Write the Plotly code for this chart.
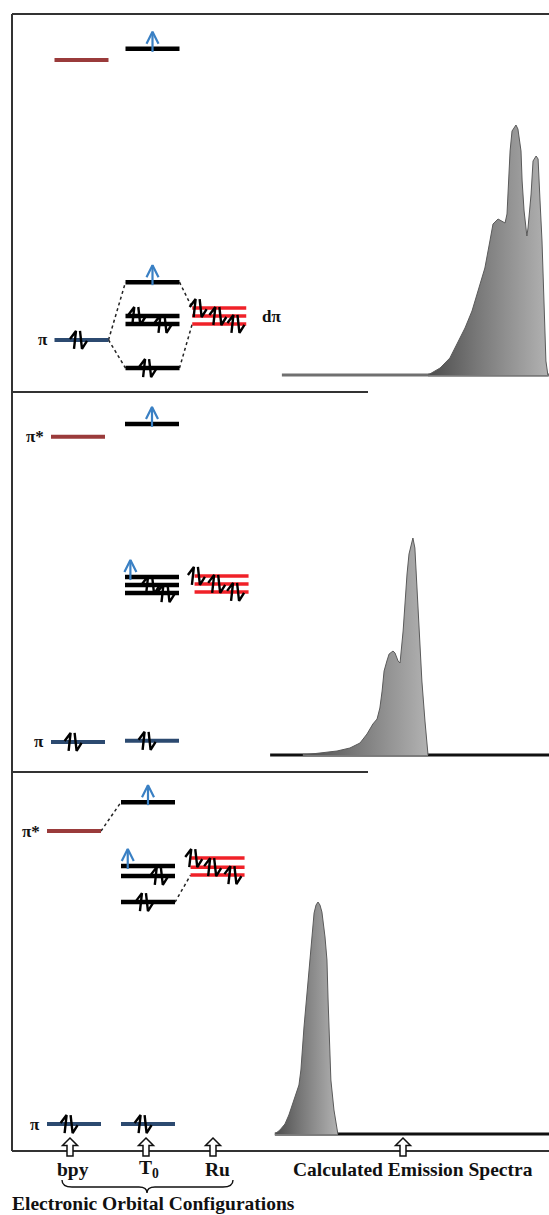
import plotly.graph_objects as go

# ---------------------------------------------------------------------------
# Orbital level data (energies in arbitrary units, 0 = floor of each panel)
# ---------------------------------------------------------------------------
columns = ["bpy", "T0", "Ru"]

# Panel 1
p1_level_col = ["bpy", "bpy", "T0", "T0", "T0", "T0", "T0", "Ru", "Ru", "Ru"]
p1_level_energy = [8.74, 1.37, 9.03, 2.89, 2.00, 1.79, 0.63, 2.21, 2.00, 1.79]
p1_level_kind = ["pi_star", "pi", "t0", "t0", "t0", "t0", "t0", "d", "d", "d"]
p1_electrons = ["", "pair", "up", "up", "pair", "pair", "pair", "pair", "pair", "pair"]
p1_electron_shift = [0, -0.13, 0, 0, -0.6, 0.37, -0.2, -0.8, -0.07, 0.6]
p1_links = [(1, 3), (1, 6), (3, 7), (6, 9)]
p1_left_labels = {1: "π"}
p1_right_labels = {8: "dπ"}

# Panel 2
p2_level_col = ["bpy", "bpy", "T0", "T0", "T0", "T0", "T0", "Ru", "Ru", "Ru"]
p2_level_energy = [8.82, 0.79, 9.16, 5.13, 4.92, 4.71, 0.82, 5.16, 4.95, 4.74]
p2_level_kind = ["pi_star", "pi", "t0", "t0", "t0", "t0", "pi", "d", "d", "d"]
p2_electrons = ["", "pair", "up", "up", "pair", "pair", "pair", "pair", "pair", "pair"]
p2_electron_shift = [0, -0.2, 0, -0.8, -0.07, 0.5, -0.2, -0.95, -0.2, 0.5]
p2_links = []
p2_left_labels = {0: "π*", 1: "π"}
p2_right_labels = {}

# Panel 3
p3_level_col = ["bpy", "bpy", "T0", "T0", "T0", "T0", "T0", "Ru", "Ru", "Ru"]
p3_level_energy = [8.42, 0.71, 9.18, 7.50, 7.24, 6.55, 0.71, 7.71, 7.47, 7.26]
p3_level_kind = ["pi_star", "pi", "t0", "t0", "t0", "t0", "pi", "d", "d", "d"]
p3_electrons = ["", "pair", "up", "up", "pair", "pair", "pair", "pair", "pair", "pair"]
p3_electron_shift = [0, -0.2, 0, -0.75, 0.4, -0.15, -0.2, -0.9, -0.2, 0.55]
p3_links = [(0, 2), (5, 9)]
p3_left_labels = {0: "π*", 1: "π"}
p3_right_labels = {}

# ---------------------------------------------------------------------------
# Calculated emission spectra (spectral coordinate 0-100, relative intensity)
# ---------------------------------------------------------------------------
spec1_x = [56.8, 61.1, 64.6, 67.1, 70.0, 72.5, 74.6, 77.1, 78.9, 80.0, 81.8, 83.2,
           84.3, 85.0, 85.4, 86.1, 86.8, 88.2, 88.9, 90.0, 90.4, 91.1, 92.1, 92.5,
           93.6, 94.3, 95.4, 96.1, 96.8, 97.5, 98.2, 98.9, 99.6]
spec1_y = [0.0, 0.028, 0.068, 0.124, 0.188, 0.256, 0.336, 0.428, 0.536, 0.604, 0.624, 0.616,
           0.608, 0.644, 0.764, 0.896, 0.976, 1.0, 0.984, 0.896, 0.776, 0.656, 0.556, 0.588,
           0.724, 0.856, 0.876, 0.864, 0.696, 0.536, 0.296, 0.056, 0.0]
spec1_base = (4.6, 100.0)

spec2_x = [12.1, 18.2, 24.3, 28.9, 32.5, 35.0, 37.1, 38.6, 39.6, 40.4, 41.1, 42.1, 42.9,
           44.3, 45.0, 46.1, 46.8, 47.9, 48.6, 49.3, 50.0, 51.4, 52.1, 52.9, 53.2, 53.9,
           54.6, 55.7, 56.8]
spec2_y = [0.0, 0.008, 0.016, 0.028, 0.048, 0.084, 0.124, 0.144, 0.188, 0.256, 0.336, 0.376,
           0.404, 0.416, 0.408, 0.376, 0.368, 0.496, 0.628, 0.724, 0.804, 0.868, 0.828, 0.668,
           0.564, 0.428, 0.296, 0.136, 0.0]
spec2_base = (0.4, 100.0)

spec3_x = [2.1, 3.9, 5.7, 7.1, 8.9, 10.7, 11.4, 12.5, 13.9, 14.6, 15.4, 16.1, 16.8, 17.5,
           18.2, 18.9, 20.0, 20.7, 21.1, 21.8, 22.1, 23.2, 24.3, 24.6]
spec3_y = [0.0, 0.016, 0.04, 0.076, 0.136, 0.196, 0.256, 0.428, 0.604, 0.696, 0.788, 0.884,
           0.916, 0.928, 0.916, 0.888, 0.788, 0.696, 0.536, 0.336, 0.216, 0.096, 0.016, 0.0]
spec3_base = (2.1, 100.0)

axis_labels = ["bpy", "T<sub>0</sub>", "Ru", "Calculated Emission Spectra"]
group_label = "Electronic Orbital Configurations"

# ---------------------------------------------------------------------------
# Layout geometry (pixels)
# ---------------------------------------------------------------------------
W, H = 549, 1215
PANEL_TOP = [14, 392, 772]
PANEL_BOTTOM = [392, 772, 1151]
FRAME_LEFT = 12
SEPARATOR_END = 368
E_PX = 38.0                       # pixels per energy unit
COL_ORIGIN = [81.5, 78.0, 74.0]   # pixel centre of the bpy column
COL_PX = [71.0, 74.0, 74.0]       # pixels per column step
COL_POS = {"bpy": 0.0, "T0": 1.0, "Ru": 1.94}
LEVEL_HALF_PX = 27.0
SPEC_X0_PX = 269.0
INT_PX = 250.0                    # pixels per unit intensity
BASE_OFFSET_PX = 17.0
ARROW_X = [70, 146, 213, 403]
LABEL_X = [73, 149, 217, 413]

SERIF = "Liberation Serif, Times New Roman, serif"
LEVEL_STYLE = {
    "pi_star": ("#9a3b3b", 4.0),
    "pi": ("#2c4a70", 4.0),
    "t0": ("#000000", 4.5),
    "d": ("#f02128", 3.5),
}
BASE_COLOR = ["#707070", "#111111", "#111111"]
BLUE = "#3a80c4"

panels = [
    (p1_level_col, p1_level_energy, p1_level_kind, p1_electrons, p1_electron_shift,
     p1_links, p1_left_labels, p1_right_labels, spec1_x, spec1_y, spec1_base),
    (p2_level_col, p2_level_energy, p2_level_kind, p2_electrons, p2_electron_shift,
     p2_links, p2_left_labels, p2_right_labels, spec2_x, spec2_y, spec2_base),
    (p3_level_col, p3_level_energy, p3_level_kind, p3_electrons, p3_electron_shift,
     p3_links, p3_left_labels, p3_right_labels, spec3_x, spec3_y, spec3_base),
]

# half-arrow spin pair and single spin-up arrow, in pixel offsets (y down)
PAIR_STROKES = [[(-8, -1), (-2, -9), (-4, 9)], [(2, -9), (4, 9), (9, 1)]]
UP_STROKES = [[(0, 3), (0, -17)], [(-6, -5), (0, -17), (6, -5)]]


def glyph(strokes, cx, cy, kx, ky):
    xs, ys = [], []
    for s in strokes:
        for dx, dy in s:
            xs.append(cx + dx * kx)
            ys.append(cy - dy * ky)
        xs.append(None)
        ys.append(None)
    return xs, ys


def ax_id(n):
    return "" if n == 1 else str(n)


fig = go.Figure()
annotations = []
layout_axes = {}

for i, (lcol, lE, lkind, lel, lshift, links, left_lab, right_lab,
        sx, sy, base) in enumerate(panels):
    top, bottom = PANEL_TOP[i], PANEL_BOTTOM[i]
    ydom = [1 - bottom / H, 1 - top / H]
    no, ns = 2 * i + 1, 2 * i + 2
    xo, yo = "x" + ax_id(no), "y" + ax_id(no)
    xs_, ys_ = "x" + ax_id(ns), "y" + ax_id(ns)

    kx = 1.0 / COL_PX[i]
    ky = 1.0 / E_PX
    half = LEVEL_HALF_PX * kx

    layout_axes["xaxis" + ax_id(no)] = dict(
        domain=[0, 1], range=[-COL_ORIGIN[i] * kx, (W - COL_ORIGIN[i]) * kx],
        visible=False, anchor=yo, fixedrange=True)
    layout_axes["yaxis" + ax_id(no)] = dict(
        domain=ydom, range=[0, (bottom - top) * ky],
        visible=False, anchor=xo, fixedrange=True)
    layout_axes["xaxis" + ax_id(ns)] = dict(
        domain=[SPEC_X0_PX / W, 1], range=[0, 100],
        visible=False, anchor=ys_, fixedrange=True)
    layout_axes["yaxis" + ax_id(ns)] = dict(
        domain=ydom,
        range=[-BASE_OFFSET_PX / INT_PX, (bottom - top - BASE_OFFSET_PX) / INT_PX],
        visible=False, anchor=xs_, fixedrange=True)

    xpos = [COL_POS[c] for c in lcol]

    # dotted correlation lines between levels
    for a, b in links:
        fig.add_trace(go.Scatter(
            x=[xpos[a] + half, xpos[b] - half], y=[lE[a], lE[b]],
            mode="lines", line=dict(color="#222222", width=1.5, dash="dot"),
            xaxis=xo, yaxis=yo, hoverinfo="skip", showlegend=False))

    # energy levels, one trace per colour
    for kind, (color, width) in LEVEL_STYLE.items():
        X, Y = [], []
        for j in range(len(lE)):
            if lkind[j] == kind:
                X += [xpos[j] - half, xpos[j] + half, None]
                Y += [lE[j], lE[j], None]
        if X:
            fig.add_trace(go.Scatter(
                x=X, y=Y, mode="lines", line=dict(color=color, width=width),
                xaxis=xo, yaxis=yo, hoverinfo="skip", showlegend=False))

    # electrons
    PX, PY, UX, UY = [], [], [], []
    for j in range(len(lE)):
        if not lel[j]:
            continue
        cx = xpos[j] + lshift[j] * half
        if lel[j] == "pair":
            gx, gy = glyph(PAIR_STROKES, cx, lE[j], kx, ky)
            PX += gx
            PY += gy
        else:
            gx, gy = glyph(UP_STROKES, cx, lE[j], kx, ky)
            UX += gx
            UY += gy
    if PX:
        fig.add_trace(go.Scatter(
            x=PX, y=PY, mode="lines", line=dict(color="#000000", width=2.4),
            xaxis=xo, yaxis=yo, hoverinfo="skip", showlegend=False))
    if UX:
        fig.add_trace(go.Scatter(
            x=UX, y=UY, mode="lines", line=dict(color=BLUE, width=2.2),
            xaxis=xo, yaxis=yo, hoverinfo="skip", showlegend=False))

    # level labels
    for j, text in left_lab.items():
        annotations.append(dict(
            x=xpos[j] - half - 5 * kx, y=lE[j], xref=xo, yref=yo,
            text="<b>%s</b>" % text, showarrow=False, xanchor="right", yanchor="middle",
            font=dict(family=SERIF, size=17, color="#111111")))
    for j, text in right_lab.items():
        annotations.append(dict(
            x=xpos[j] + half + 14 * kx, y=lE[j], xref=xo, yref=yo,
            text="<b>%s</b>" % text, showarrow=False, xanchor="left", yanchor="middle",
            font=dict(family=SERIF, size=17, color="#111111")))

    # spectrum baseline
    fig.add_trace(go.Scatter(
        x=[base[0], base[1]], y=[0, 0], mode="lines",
        line=dict(color=BASE_COLOR[i], width=3),
        xaxis=xs_, yaxis=ys_, hoverinfo="skip", showlegend=False))
    fig.add_trace(go.Scatter(
        x=[sx[0], sx[-1]], y=[0, 0], mode="lines",
        line=dict(color="#7a7a7a", width=3),
        xaxis=xs_, yaxis=ys_, hoverinfo="skip", showlegend=False))
    # emission band
    fig.add_trace(go.Scatter(
        x=sx, y=sy, mode="lines", fill="tozeroy",
        fillgradient=dict(type="horizontal",
                          colorscale=[[0, "#4c4c4c"], [0.4, "#777777"], [1, "#b2b2b2"]]),
        line=dict(color="#5a5a5a", width=1),
        xaxis=xs_, yaxis=ys_, hoverinfo="skip", showlegend=False))


def px(x):
    return x / W


def py(y):
    return 1 - y / H


shapes = []
frame = dict(type="line", xref="paper", yref="paper", line=dict(color="#333333", width=2))
shapes.append(dict(frame, x0=px(FRAME_LEFT), x1=px(W), y0=py(PANEL_TOP[0]), y1=py(PANEL_TOP[0])))
shapes.append(dict(frame, x0=px(FRAME_LEFT), x1=px(FRAME_LEFT), y0=py(PANEL_TOP[0]), y1=py(PANEL_BOTTOM[2])))
shapes.append(dict(frame, x0=px(FRAME_LEFT), x1=px(W), y0=py(PANEL_BOTTOM[2]), y1=py(PANEL_BOTTOM[2])))
for yb in PANEL_BOTTOM[:2]:
    shapes.append(dict(frame, x0=px(FRAME_LEFT), x1=px(SEPARATOR_END), y0=py(yb), y1=py(yb)))

# hollow pointer arrows under the frame
for ax in ARROW_X:
    pts = [(ax, 1138), (ax + 7.5, 1145.5), (ax + 3, 1145.5), (ax + 3, 1156),
           (ax - 3, 1156), (ax - 3, 1145.5), (ax - 7.5, 1145.5)]
    path = "M " + " L ".join("%.5f,%.5f" % (px(a), py(b)) for a, b in pts) + " Z"
    shapes.append(dict(type="path", xref="paper", yref="paper", path=path,
                       fillcolor="white", line=dict(color="#111111", width=1.5)))

# curly brace grouping the orbital columns
bp = [("M", [(62, 1180)]), ("Q", [(62, 1187), (72, 1187)]), ("L", [(139, 1187)]),
      ("Q", [(147, 1187), (147, 1193)]), ("Q", [(147, 1187), (155, 1187)]),
      ("L", [(223, 1187)]), ("Q", [(233, 1187), (233, 1180)])]
path = " ".join(cmd + " " + " ".join("%.5f,%.5f" % (px(a), py(b)) for a, b in p) for cmd, p in bp)
shapes.append(dict(type="path", xref="paper", yref="paper", path=path,
                   line=dict(color="#111111", width=1.4)))

for lx, text in zip(LABEL_X, axis_labels):
    annotations.append(dict(
        x=px(lx), y=py(1169), xref="paper", yref="paper", text="<b>%s</b>" % text,
        showarrow=False, xanchor="center", yanchor="middle",
        font=dict(family=SERIF, size=19.5, color="#111111")))
annotations.append(dict(
    x=px(10), y=py(1203), xref="paper", yref="paper", text="<b>%s</b>" % group_label,
    showarrow=False, xanchor="left", yanchor="middle",
    font=dict(family=SERIF, size=19.5, color="#111111")))

fig.update_layout(
    width=W, height=H, autosize=False,
    margin=dict(l=0, r=0, t=0, b=0),
    paper_bgcolor="white", plot_bgcolor="white",
    showlegend=False, shapes=shapes, annotations=annotations,
    **layout_axes)

fig.write_html("out.html", config={"displayModeBar": False})
